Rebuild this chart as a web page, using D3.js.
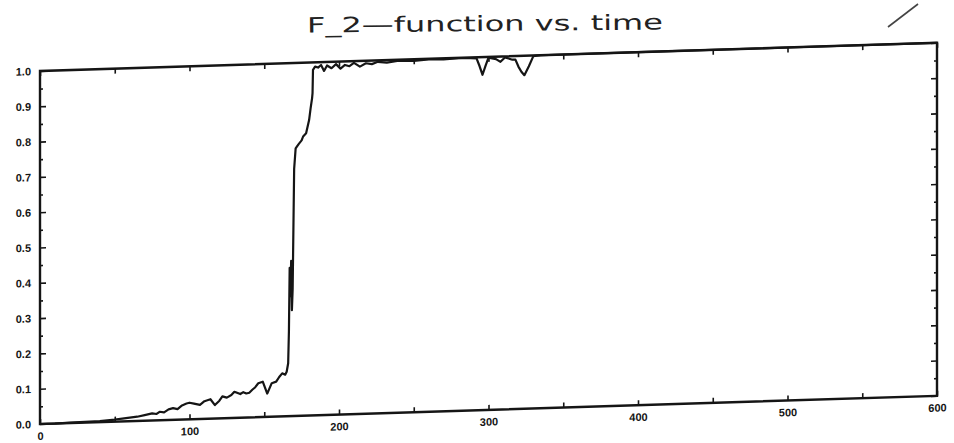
<!DOCTYPE html>
<html>
<head>
<meta charset="utf-8">
<script src="https://cdn.jsdelivr.net/npm/d3@7"></script>
<style>
  html, body { margin: 0; padding: 0; background: #fff; }
  svg { display: block; }
</style>
</head>
<body>
<script>
// ---- data ----
const time = [0,10,20,30,40,50,55,60,65,70,75,78,80,83,86,89,92,95,98,100,103,107,110,114,117,120,122,125,128,130,134,136,138,140,142,144,146,149,152,155,158,160,162,164,165,166,166.5,167,167.5,168,168.5,169,169.5,170,171,173,175,176,178,180,181,182,182.3,182.6,184,186,188,190,192,195,198,201,204,207,210,214,218,222,226,232,240,250,260,270,280,288,292,294,296,298,300,305,308,311,316,318,320,322,324,327,330,335,400,500,600];
const f2   = [0,0,0.001,0.002,0.003,0.006,0.008,0.01,0.012,0.016,0.02,0.018,0.024,0.022,0.03,0.033,0.03,0.04,0.045,0.047,0.044,0.04,0.05,0.055,0.038,0.05,0.062,0.058,0.065,0.074,0.067,0.072,0.068,0.07,0.078,0.085,0.096,0.1,0.066,0.095,0.099,0.112,0.122,0.118,0.126,0.15,0.24,0.42,0.34,0.44,0.3,0.36,0.53,0.7,0.758,0.77,0.78,0.791,0.8,0.837,0.87,0.899,0.913,0.979,0.988,0.985,0.992,0.975,0.99,0.982,0.993,0.98,0.99,0.986,0.995,0.984,0.993,0.99,0.996,0.993,0.997,0.995,0.998,0.997,0.999,0.998,0.997,0.975,0.95,0.975,0.998,0.993,0.985,0.997,0.99,0.99,0.97,0.955,0.945,0.97,0.998,1.0,1.0,1.0,1.0];
const xTickLabels = [0,100,200,300,400,500,600];
const yTickLabels = [0.0,0.1,0.2,0.3,0.4,0.5,0.6,0.7,0.8,0.9,1.0];
const titleText = "F_2\u2014function vs. time";

// ---- layout ----
const Wd = 954, Ht = 443;
const ox = 40, oy = 424, pw = 897, ph = 353;
const skew = -1.8;

const svg = d3.select("body").append("svg").attr("width", Wd).attr("height", Ht);

const x = d3.scaleLinear().domain([0, 600]).range([0, pw]);
const y = d3.scaleLinear().domain([0, 1]).range([0, -ph]);

const g = svg.append("g").attr("transform", `translate(${ox},${oy}) skewY(${skew})`);

const ink = "#151515";
const lblFont = "'Liberation Sans', Arial, sans-serif";

// frame
g.append("rect").attr("x", 0).attr("y", -ph).attr("width", pw).attr("height", ph)
  .attr("fill", "none").attr("stroke", ink).attr("stroke-width", 2.4);

const xMinor = d3.range(0, 601, 50);
const yMinor = d3.range(0, 1.0001, 0.05).map(v => +v.toFixed(2));

// bottom axis (ticks inward)
const axB = g.append("g")
  .call(d3.axisBottom(x).tickValues(xMinor).tickSizeInner(-5).tickSizeOuter(0).tickPadding(8)
    .tickFormat(d => xTickLabels.includes(d) ? String(d) : ""));
// top axis
const axT = g.append("g").attr("transform", `translate(0,${-ph})`)
  .call(d3.axisTop(x).tickValues(xMinor).tickSizeInner(-5).tickSizeOuter(0).tickFormat(""));
// left axis
const axL = g.append("g")
  .call(d3.axisLeft(y).tickValues(yMinor).tickSizeInner(-5).tickSizeOuter(0).tickPadding(9)
    .tickFormat(d => {
      const m = yTickLabels.find(v => Math.abs(v - d) < 1e-6);
      return m === undefined ? "" : m.toFixed(1);
    }));
// right axis
const axR = g.append("g").attr("transform", `translate(${pw},0)`)
  .call(d3.axisRight(y).tickValues(yMinor).tickSizeInner(-5).tickSizeOuter(0).tickFormat(""));

[axB, axT, axL, axR].forEach(a => {
  a.select(".domain").remove();
  a.selectAll("line").attr("stroke", ink).attr("stroke-width", 1.6);
  a.selectAll("text").attr("fill", ink).attr("font-family", lblFont)
    .attr("font-weight", "bold").attr("font-size", 11);
});
// shorter minor ticks on the y axes
axL.selectAll(".tick line").attr("x2", d => yTickLabels.some(v => Math.abs(v - d) < 1e-6) ? 6 : 3);
axR.selectAll(".tick line").attr("x2", d => yTickLabels.some(v => Math.abs(v - d) < 1e-6) ? -6 : -3);

// data line
const pts = time.map((t, i) => [t, f2[i]]);
g.append("path").datum(pts)
  .attr("d", d3.line().x(d => x(d[0])).y(d => y(d[1])))
  .attr("fill", "none").attr("stroke", ink).attr("stroke-width", 2.2)
  .attr("stroke-linejoin", "round");

// title
svg.append("text")
  .attr("x", 307).attr("y", 31)
  .attr("transform", "rotate(-0.5 485 30)")
  .attr("textLength", 356).attr("lengthAdjust", "spacingAndGlyphs")
  .attr("font-family", "'DejaVu Sans', sans-serif").attr("font-size", 21)
  .attr("fill", "#222")
  .text(titleText);

// pen mark in the top-right corner of the scan
svg.append("path").attr("d", "M888,27 L918,4")
  .attr("stroke", "#444").attr("stroke-width", 1.6).attr("fill", "none");
</script>
</body>
</html>
